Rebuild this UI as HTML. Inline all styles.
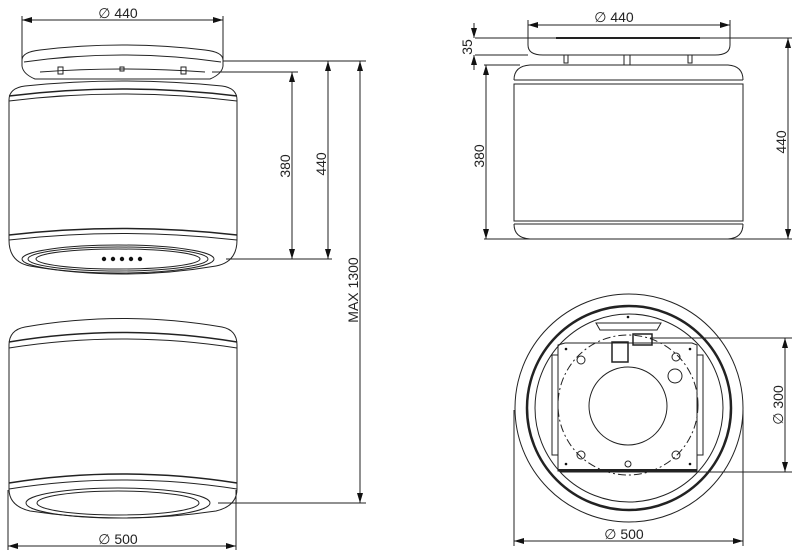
<!DOCTYPE html>
<html><head><meta charset="utf-8"><style>
html,body{margin:0;padding:0;background:#fff;}
svg{display:block;}
text{font-family:"Liberation Sans",sans-serif;font-size:14px;fill:#222;}
</style></head><body>
<svg width="799" height="552" viewBox="0 0 799 552" xmlns="http://www.w3.org/2000/svg">
<defs>
<marker id="a" viewBox="0 0 10 6" refX="10" refY="3" markerWidth="10" markerHeight="6" orient="auto-start-reverse" markerUnits="userSpaceOnUse"><path d="M0,0 L10,3 L0,6 Z" fill="#111"/></marker>
</defs>
<g fill="none" stroke="#222" stroke-width="1">
<line x1="22" y1="20" x2="223" y2="20" marker-start="url(#a)" marker-end="url(#a)"/>
<line x1="22" y1="16" x2="22" y2="60"/><line x1="223" y1="16" x2="223" y2="60"/>
<path d="M22,60 Q22,52 40,50 Q122,40 205,50 Q223,52 223,60 L223,66 Q222,74 210,79 L35,79 Q23,74 22,66 Z"/>
<path d="M24,62 Q122,48 221,62"/>
<path d="M40,72 Q122,66 205,72"/>
<rect x="58" y="67" width="5" height="7"/><rect x="181" y="67" width="5" height="7"/><rect x="120" y="67" width="4" height="4"/>
<path d="M9,100 Q9,88 25,86 Q122,76 222,86 Q237,88 237,100"/>
<path d="M9,96 Q122,82 237,96" stroke-width="1.5"/>
<path d="M9,101 Q122,87 237,101"/>
<line x1="9" y1="100" x2="9" y2="240"/><line x1="237" y1="100" x2="237" y2="240"/>
<path d="M9,235 Q122,222 237,235" stroke-width="1.5"/>
<path d="M9,240 Q122,227 237,240"/>
<path d="M9,240 Q9,262 30,266 Q122,282 216,266 Q237,262 237,240"/>
<ellipse cx="118" cy="259" rx="96" ry="14"/>
<ellipse cx="118" cy="259" rx="90" ry="12"/>
<ellipse cx="118" cy="259" rx="82" ry="10"/>
<line x1="212" y1="72" x2="298" y2="72"/>
<line x1="223" y1="61" x2="366" y2="61"/>
<line x1="226" y1="259" x2="332" y2="259"/>
<line x1="292" y1="72" x2="292" y2="259" marker-start="url(#a)" marker-end="url(#a)"/>
<line x1="328" y1="61" x2="328" y2="259" marker-start="url(#a)" marker-end="url(#a)"/>
<line x1="360" y1="61" x2="360" y2="503" marker-start="url(#a)" marker-end="url(#a)"/>
<path d="M9,345 Q9,330 25,327 Q122,310 222,327 Q237,330 237,345"/>
<path d="M9,342 Q122,323 237,342" stroke-width="1.5"/>
<path d="M9,348 Q122,330 237,348"/>
<line x1="9" y1="345" x2="9" y2="490"/><line x1="237" y1="345" x2="237" y2="490"/>
<path d="M9,483 Q122,465 237,483" stroke-width="1.5"/>
<path d="M9,489 Q122,471 237,489"/>
<path d="M9,489 Q9,506 30,511 Q122,525 216,511 Q237,506 237,489"/>
<ellipse cx="118" cy="503" rx="92" ry="15"/>
<ellipse cx="118" cy="503" rx="81" ry="12"/>
<line x1="218" y1="503" x2="366" y2="503"/>
<line x1="8" y1="490" x2="8" y2="550"/><line x1="236" y1="490" x2="236" y2="550"/>
<line x1="8" y1="546" x2="236" y2="546" marker-start="url(#a)" marker-end="url(#a)"/>
<line x1="528" y1="25" x2="730" y2="25" marker-start="url(#a)" marker-end="url(#a)"/>
<line x1="528" y1="20" x2="528" y2="40"/><line x1="730" y1="20" x2="730" y2="40"/>
<path d="M528,38 L730,38 L730,45 Q730,55 715,55 L543,55 Q528,55 528,45 Z"/>
<line x1="556" y1="38" x2="700" y2="38" stroke-width="2"/>
<line x1="475" y1="38" x2="528" y2="38"/><line x1="730" y1="38" x2="792" y2="38"/>
<line x1="475" y1="55" x2="528" y2="55"/>
<line x1="474" y1="23" x2="474" y2="38" marker-end="url(#a)"/>
<line x1="474" y1="70" x2="474" y2="55" marker-end="url(#a)"/>
<rect x="564" y="55" width="4" height="8"/><rect x="688" y="55" width="4" height="8"/><rect x="624" y="55" width="6" height="10"/>
<path d="M514,80 Q514,66 530,65 L728,65 Q743,66 743,80"/>
<line x1="514" y1="80" x2="743" y2="80"/><line x1="514" y1="84" x2="743" y2="84"/>
<rect x="514" y="84" width="229" height="137"/>
<line x1="514" y1="221" x2="743" y2="221"/><line x1="514" y1="224" x2="743" y2="224"/>
<path d="M514,224 Q514,238 530,239 L728,239 Q743,238 743,224"/>
<line x1="484" y1="65" x2="520" y2="65"/>
<line x1="484" y1="239" x2="792" y2="239"/>
<line x1="486" y1="65" x2="486" y2="239" marker-start="url(#a)" marker-end="url(#a)"/>
<line x1="788" y1="38" x2="788" y2="239" marker-start="url(#a)" marker-end="url(#a)"/>
<circle cx="629" cy="408" r="114"/>
<circle cx="629" cy="408" r="102" stroke-width="2.5"/>
<circle cx="629" cy="408" r="94"/>
<path d="M558,345 L565,343 L692,343 L697,345 L697,471 L558,471 Z"/>
<line x1="558" y1="470" x2="697" y2="470" stroke-width="2"/>
<path d="M596,323 L661,323 L657,330 L600,330 Z"/>
<rect x="552" y="355" width="6" height="100"/><rect x="697" y="355" width="6" height="100"/>
<circle cx="628" cy="405" r="70" stroke-dasharray="8,3,2,3"/>
<circle cx="628" cy="406" r="39"/>
<circle cx="675" cy="376" r="7"/>
<rect x="633" y="334" width="19" height="11" stroke-width="1.5"/>
<rect x="612" y="342" width="16" height="20" stroke-width="1.5"/>
<circle cx="581" cy="360" r="4"/><circle cx="676" cy="357" r="4"/><circle cx="581" cy="455" r="4"/><circle cx="676" cy="455" r="4"/>
<circle cx="628" cy="464" r="3"/>
<line x1="650" y1="338" x2="792" y2="338"/>
<line x1="560" y1="472" x2="792" y2="472"/>
<line x1="785" y1="338" x2="785" y2="472" marker-start="url(#a)" marker-end="url(#a)"/>
<line x1="514" y1="410" x2="514" y2="546"/><line x1="743" y1="410" x2="743" y2="546"/>
<line x1="514" y1="541" x2="743" y2="541" marker-start="url(#a)" marker-end="url(#a)"/>
</g>
<g fill="#111">
<circle cx="104" cy="259" r="2.2"/><circle cx="113" cy="259" r="2.2"/><circle cx="122" cy="259" r="2.2"/><circle cx="131" cy="259" r="2.2"/><circle cx="140" cy="259" r="2.2"/>
<circle cx="566" cy="349" r="1.3"/><circle cx="690" cy="349" r="1.3"/><circle cx="566" cy="464" r="1.3"/><circle cx="690" cy="464" r="1.3"/><circle cx="628" cy="317" r="1.3"/>
</g>
<text x="118" y="18" text-anchor="middle">∅ 440</text>
<text transform="translate(290,166) rotate(-90)" text-anchor="middle">380</text>
<text transform="translate(326,164) rotate(-90)" text-anchor="middle">440</text>
<text transform="translate(358,290) rotate(-90)" text-anchor="middle">MAX 1300</text>
<text x="118" y="544" text-anchor="middle">∅ 500</text>
<text x="614" y="22" text-anchor="middle">∅ 440</text>
<text transform="translate(472,47) rotate(-90)" text-anchor="middle">35</text>
<text transform="translate(484,156) rotate(-90)" text-anchor="middle">380</text>
<text transform="translate(786,142) rotate(-90)" text-anchor="middle">440</text>
<text transform="translate(783,405) rotate(-90)" text-anchor="middle">∅ 300</text>
<text x="624" y="539" text-anchor="middle">∅ 500</text>
</svg>
</body></html>
